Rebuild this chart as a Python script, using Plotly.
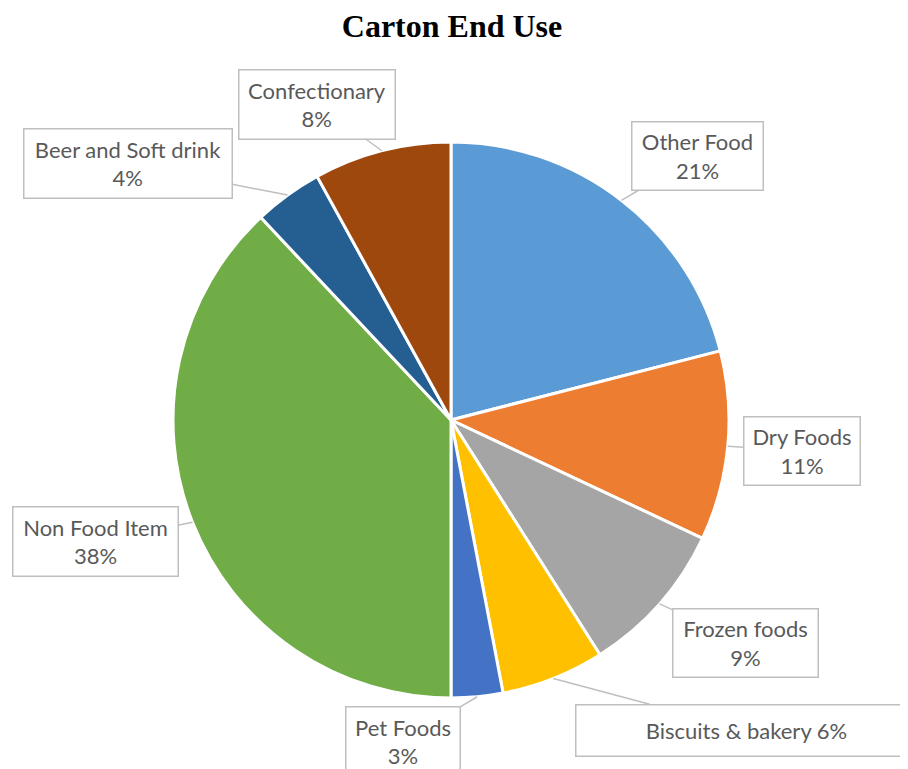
import math
import plotly.graph_objects as go

# ---- data ----
categories = ["Other Food", "Dry Foods", "Frozen foods", "Biscuits & bakery",
              "Pet Foods", "Non Food Item", "Beer and Soft drink", "Confectionary"]
shares = [21, 11, 9, 6, 3, 38, 4, 8]
colors = ["#5B9BD5", "#ED7D31", "#A5A5A5", "#FFC000",
          "#4472C4", "#70AD47", "#255E91", "#9E480E"]

# ---- label styling / placement (box centre in page px, box size, separator) ----
label_box_center = [(697, 156), (802, 451), (745, 643), (746, 730),
                    (403, 741), (95, 541), (128, 164), (317, 104)]
label_box_size = [(130, 67), (115, 67), (144, 67), (340, 50),
                  (113, 68), (164, 68), (207, 68), (155, 68)]
label_sep = ["<br>", "<br>", "<br>", " ", "<br>", "<br>", "<br>", "<br>"]

OFF = 8                      # default page body margin
W, H = 908 - OFF, 769 - OFF  # figure size
CX, CY, R = 451 - OFF, 420 - OFF, 278  # pie centre / radius in figure px

fig = go.Figure(go.Pie(
    labels=categories, values=shares, sort=False, direction="clockwise",
    rotation=0, marker=dict(colors=colors, line=dict(color="white", width=3)),
    textinfo="none", hoverinfo="label+percent", showlegend=False,
    domain=dict(x=[(CX - R) / W, (CX + R) / W],
                y=[1 - (CY + R) / H, 1 - (CY - R) / H]),
))

total = sum(shares)
cum = 0
annotations = []
for i, (cat, v) in enumerate(zip(categories, shares)):
    mid = (cum + v / 2) / total * 2 * math.pi
    cum += v
    tx = CX + R * math.sin(mid)
    ty = CY - R * math.cos(mid)
    bx, by = label_box_center[i]
    bx, by = bx - OFF, by - OFF
    bw, bh = label_box_size[i]
    annotations.append(dict(
        x=tx / W, y=1 - ty / H, xref="paper", yref="paper",
        text=f"{cat}{label_sep[i]}{v}%",
        showarrow=True, arrowhead=0, arrowwidth=1.5, arrowcolor="#BFBFBF",
        ax=bx - tx, ay=by - ty, axref="pixel", ayref="pixel",
        width=bw, height=bh, borderpad=0, borderwidth=1.5,
        bordercolor="#BFBFBF", bgcolor="white",
        font=dict(family="Lato", size=22, color="#595959"),
        align="center", valign="middle",
    ))

fig.update_layout(
    width=W, height=H,
    margin=dict(l=0, r=0, t=0, b=0),
    paper_bgcolor="white", plot_bgcolor="white",
    title=dict(text="<b>Carton End Use</b>", x=(452 - OFF) / W, xanchor="center",
               y=1 - (26 - OFF) / H, yanchor="middle", yref="container",
               font=dict(family="Liberation Serif", size=32, color="black")),
    annotations=annotations,
)

fig.write_html("out.html")
